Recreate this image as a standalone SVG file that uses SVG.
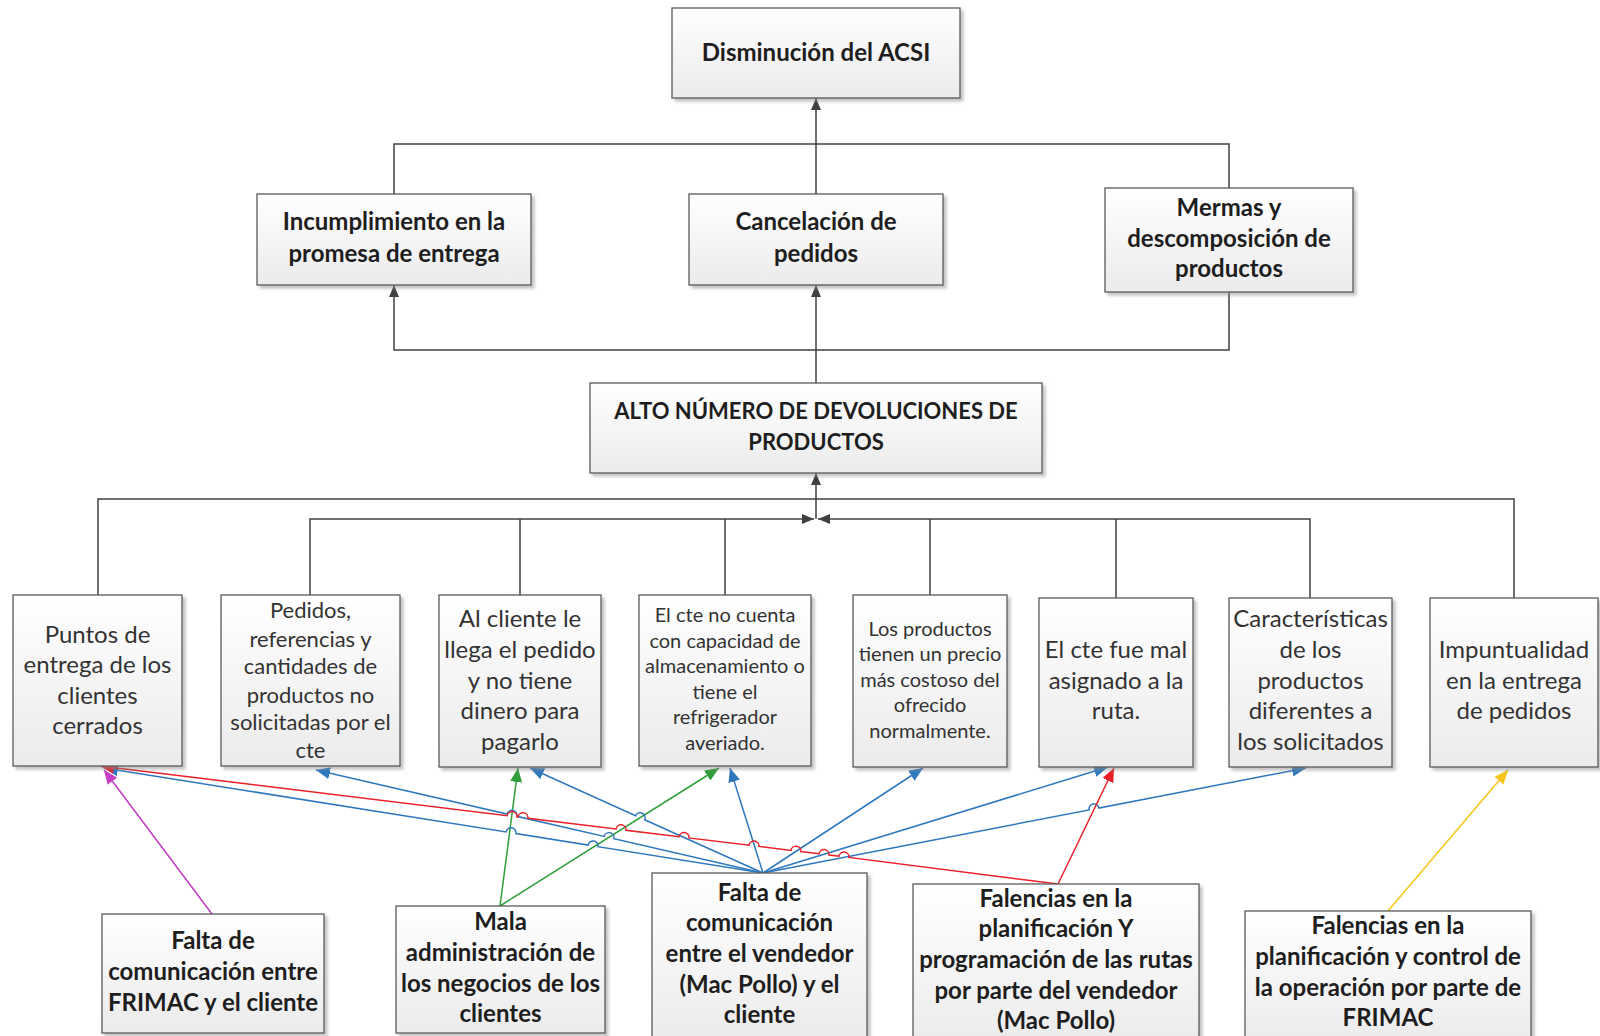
<svg xmlns="http://www.w3.org/2000/svg" width="1600" height="1036" viewBox="0 0 1600 1036">
<style>
.box{fill:url(#gf);stroke:#5a5a5a;stroke-width:1.3;filter:url(#sh)}
.t{font-family:Lato,"Liberation Sans",sans-serif;text-anchor:middle;fill:#1e1e1e}
.b{font-weight:bold;font-size:24px}
.bu{font-weight:bold;font-size:22px}
.r{font-size:24px;fill:#333}
.r2{font-size:22px;fill:#333}
.s{font-size:20px;fill:#333}
.k{fill:none;stroke:#404040;stroke-width:1.5}
.bl{fill:none;stroke:#2f78bd;stroke-width:1.5}
.rd{fill:none;stroke:#e8202a;stroke-width:1.5}
.gr{fill:none;stroke:#2f9e3a;stroke-width:1.5}
.mg{fill:none;stroke:#c63fc6;stroke-width:1.5}
.yl{fill:none;stroke:#f5c518;stroke-width:1.5}
</style>
<defs>
<linearGradient id="gf" x1="0" y1="0" x2="0" y2="1"><stop offset="0" stop-color="#ffffff"/><stop offset="1" stop-color="#ebebeb"/></linearGradient>
<filter id="sh" x="-10%" y="-10%" width="130%" height="130%"><feDropShadow dx="3" dy="3" stdDeviation="1.5" flood-color="#888" flood-opacity="0.5"/></filter>
<marker id="ak" markerWidth="13" markerHeight="10" refX="12" refY="5" orient="auto" markerUnits="userSpaceOnUse"><path d="M0,0 L12,5 L0,10 z" fill="#404040"/></marker>
<marker id="ab" markerWidth="15" markerHeight="12" refX="14" refY="6" orient="auto" markerUnits="userSpaceOnUse"><path d="M0,0 L14,6 L0,12 z" fill="#2f78bd"/></marker>
<marker id="ar" markerWidth="15" markerHeight="12" refX="14" refY="6" orient="auto" markerUnits="userSpaceOnUse"><path d="M0,0 L14,6 L0,12 z" fill="#e8202a"/></marker>
<marker id="ag" markerWidth="15" markerHeight="12" refX="14" refY="6" orient="auto" markerUnits="userSpaceOnUse"><path d="M0,0 L14,6 L0,12 z" fill="#2f9e3a"/></marker>
<marker id="am" markerWidth="15" markerHeight="12" refX="14" refY="6" orient="auto" markerUnits="userSpaceOnUse"><path d="M0,0 L14,6 L0,12 z" fill="#c63fc6"/></marker>
<marker id="ay" markerWidth="15" markerHeight="12" refX="14" refY="6" orient="auto" markerUnits="userSpaceOnUse"><path d="M0,0 L14,6 L0,12 z" fill="#f5c518"/></marker>
</defs>
<rect width="1600" height="1036" fill="#ffffff"/>

<g id="connectors">
<path class="k" d="M816 144 V98" marker-end="url(#ak)"/>
<path class="k" d="M394 194 V144 H1229 V188"/>
<path class="k" d="M816 194 V144"/>
<path class="k" d="M816 383 V285" marker-end="url(#ak)"/>
<path class="k" d="M1229 292 V350 H394 V285" marker-end="url(#ak)"/>
<path class="k" d="M816 519 V473" marker-end="url(#ak)"/>
<path class="k" d="M98 595 V499 H1514 V598"/>
<path class="k" d="M310 595 V519 H814" marker-end="url(#ak)"/>
<path class="k" d="M1310 598 V519 H818" marker-end="url(#ak)"/>
<path class="k" d="M520 595 V519 M725 595 V519 M930 595 V519 M1116 598 V519"/>

<path class="mg" d="M212 914 L104 770" marker-end="url(#am)"/>
<path class="gr" d="M500 906 L518 768" marker-end="url(#ag)"/>
<path class="gr" d="M500 906 L719 768" marker-end="url(#ag)"/>
<path class="yl" d="M1388 911 L1508 770" marker-end="url(#ay)"/>

<path class="bl" d="M763 873 L597.94 846.69 A5 5 0 0 0 588.06 845.11 L515.94 833.59 A5 5 0 0 0 506.06 832.01 L104 768" marker-end="url(#ab)"/>
<path class="bl" d="M763 873 L613.87 838.62 A5 5 0 0 0 604.13 836.38 L516.87 816.32 A5 5 0 0 0 507.13 814.08 L316 770" marker-end="url(#ab)"/>
<path class="bl" d="M763 873 L644.66 819.75 A5 5 0 0 0 635.54 815.65 L530 768" marker-end="url(#ab)"/>
<path class="bl" d="M763 873 L730 768" marker-end="url(#ab)"/>
<path class="bl" d="M763 873 L923 768" marker-end="url(#ab)"/>
<path class="bl" d="M763 873 L1108 767" marker-end="url(#ab)"/>
<path class="bl" d="M763 873 L1089.09 809.95 A5 5 0 0 1 1098.91 808.05 L1306 768" marker-end="url(#ab)"/>

<path class="rd" d="M1058 884 L848.96 857.45 A5 5 0 0 0 839.04 856.23 L828.96 855.01 A5 5 0 0 0 819.04 853.79 L800.96 851.59 A5 5 0 0 0 791.04 850.37 L758.96 846.46 A5 5 0 0 0 749.04 845.24 L688.96 837.92 A5 5 0 0 0 679.04 836.7 L625.96 830.22 A5 5 0 0 0 616.04 829 L527.96 818.26 A5 5 0 0 0 518.04 817.04 L516.96 816.92 A5 5 0 0 0 507.04 815.7 L100 766" marker-end="url(#ar)"/>
<path class="rd" d="M1058 884 L1114 768" marker-end="url(#ar)"/>
</g>

<g id="n-acsi"><rect class="box" x="672" y="8" width="288" height="90"/>
<text class="t b" x="816" y="61">Disminución del ACSI</text></g>

<g id="n-incumplimiento"><rect class="box" x="257" y="194" width="274" height="91"/>
<text class="t b"><tspan x="394" y="230">Incumplimiento en la</tspan><tspan x="394" y="262">promesa de entrega</tspan></text></g>

<g id="n-cancelacion"><rect class="box" x="689" y="194" width="254" height="91"/>
<text class="t b"><tspan x="816" y="230">Cancelación de</tspan><tspan x="816" y="262">pedidos</tspan></text></g>

<g id="n-mermas"><rect class="box" x="1105" y="188" width="248" height="104"/>
<text class="t b"><tspan x="1229" y="216">Mermas y</tspan><tspan x="1229" y="247">descomposición de</tspan><tspan x="1229" y="277">productos</tspan></text></g>

<g id="n-alto"><rect class="box" x="590" y="383" width="452" height="90"/>
<text class="t bu"><tspan x="816" y="419">ALTO NÚMERO DE DEVOLUCIONES DE</tspan><tspan x="816" y="450">PRODUCTOS</tspan></text></g>

<g id="n-puntos"><rect class="box" x="13" y="595" width="169" height="171"/>
<text class="t r"><tspan x="97.5" y="643">Puntos de</tspan><tspan x="97.5" y="673">entrega de los</tspan><tspan x="97.5" y="704">clientes</tspan><tspan x="97.5" y="734">cerrados</tspan></text></g>

<g id="n-pedidos"><rect class="box" x="221" y="595" width="179" height="171"/>
<text class="t r2"><tspan x="310.5" y="618">Pedidos,</tspan><tspan x="310.5" y="647">referencias y</tspan><tspan x="310.5" y="674">cantidades de</tspan><tspan x="310.5" y="703">productos no</tspan><tspan x="310.5" y="730">solicitadas por el</tspan><tspan x="310.5" y="758">cte</tspan></text></g>

<g id="n-dinero"><rect class="box" x="439" y="595" width="162" height="172"/>
<text class="t r"><tspan x="520" y="627">Al cliente le</tspan><tspan x="520" y="658">llega el pedido</tspan><tspan x="520" y="689">y no tiene</tspan><tspan x="520" y="719">dinero para</tspan><tspan x="520" y="750">pagarlo</tspan></text></g>

<g id="n-almacen"><rect class="box" x="639" y="595" width="172" height="171"/>
<text class="t s"><tspan x="725" y="622">El cte no cuenta</tspan><tspan x="725" y="648">con capacidad de</tspan><tspan x="725" y="673">almacenamiento o</tspan><tspan x="725" y="699">tiene el</tspan><tspan x="725" y="724">refrigerador</tspan><tspan x="725" y="750">averiado.</tspan></text></g>

<g id="n-precio"><rect class="box" x="853" y="595" width="154" height="172"/>
<text class="t s"><tspan x="930" y="636">Los productos</tspan><tspan x="930" y="661">tienen un precio</tspan><tspan x="930" y="687">más costoso del</tspan><tspan x="930" y="712">ofrecido</tspan><tspan x="930" y="738">normalmente.</tspan></text></g>

<g id="n-ruta"><rect class="box" x="1039" y="598" width="154" height="169"/>
<text class="t r"><tspan x="1116" y="658">El cte fue mal</tspan><tspan x="1116" y="689">asignado a la</tspan><tspan x="1116" y="719">ruta.</tspan></text></g>

<g id="n-caracteristicas"><rect class="box" x="1229" y="598" width="163" height="169"/>
<text class="t r"><tspan x="1310.5" y="627">Características</tspan><tspan x="1310.5" y="658">de los</tspan><tspan x="1310.5" y="689">productos</tspan><tspan x="1310.5" y="719">diferentes a</tspan><tspan x="1310.5" y="750">los solicitados</tspan></text></g>

<g id="n-impuntualidad"><rect class="box" x="1430" y="598" width="168" height="169"/>
<text class="t r"><tspan x="1514" y="658">Impuntualidad</tspan><tspan x="1514" y="689">en la entrega</tspan><tspan x="1514" y="719">de pedidos</tspan></text></g>

<g id="c-frimac-cliente"><rect class="box" x="102" y="914" width="222" height="119"/>
<text class="t b"><tspan x="213" y="948.5">Falta de</tspan><tspan x="213" y="979.5">comunicación entre</tspan><tspan x="213" y="1010.5">FRIMAC y el cliente</tspan></text></g>

<g id="c-mala-admin"><rect class="box" x="396" y="906" width="209" height="127"/>
<text class="t b"><tspan x="500.5" y="930">Mala</tspan><tspan x="500.5" y="960.5">administración de</tspan><tspan x="500.5" y="991.5">los negocios de los</tspan><tspan x="500.5" y="1021.5">clientes</tspan></text></g>

<g id="c-vendedor-cliente"><rect class="box" x="652" y="873" width="215" height="170"/>
<text class="t b"><tspan x="759.5" y="900.5">Falta de</tspan><tspan x="759.5" y="931">comunicación</tspan><tspan x="759.5" y="961.5">entre el vendedor</tspan><tspan x="759.5" y="992.5">(Mac Pollo) y el</tspan><tspan x="759.5" y="1022.5">cliente</tspan></text></g>

<g id="c-falencias-rutas"><rect class="box" x="913" y="884" width="286" height="160"/>
<text class="t b"><tspan x="1056" y="906.5">Falencias en la</tspan><tspan x="1056" y="937">planificación Y</tspan><tspan x="1056" y="967.5">programación de las rutas</tspan><tspan x="1056" y="998.5">por parte del vendedor</tspan><tspan x="1056" y="1029">(Mac Pollo)</tspan></text></g>

<g id="c-falencias-frimac"><rect class="box" x="1245" y="911" width="286" height="133"/>
<text class="t b"><tspan x="1388" y="934">Falencias en la</tspan><tspan x="1388" y="964.5">planificación y control de</tspan><tspan x="1388" y="995.5">la operación por parte de</tspan><tspan x="1388" y="1025.5">FRIMAC</tspan></text></g>
</svg>
